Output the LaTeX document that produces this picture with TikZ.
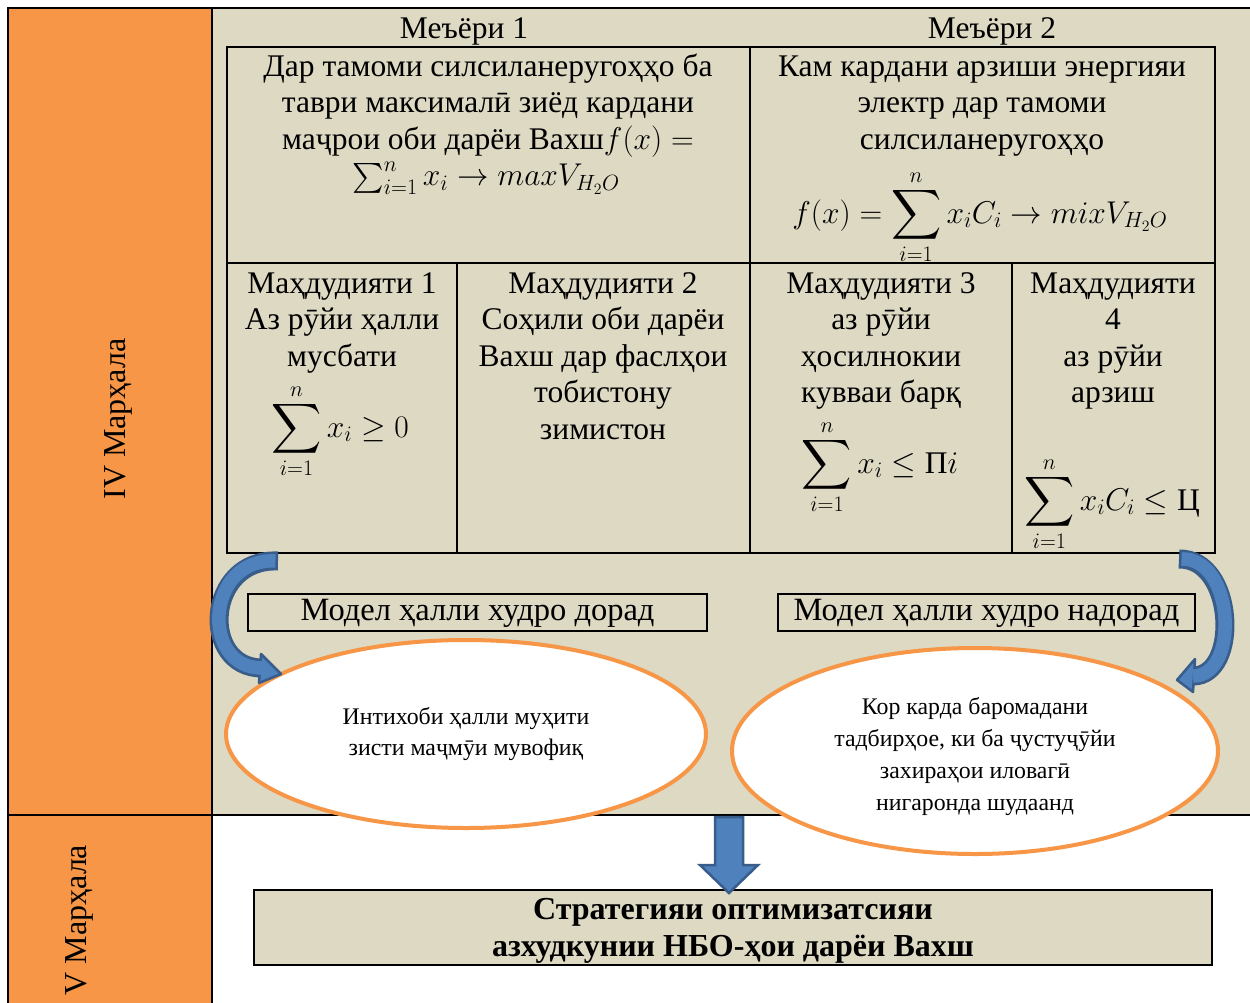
\RequirePackage{fix-cm}
\documentclass[tikz,border=0pt]{standalone}
\usepackage{amsmath}
\usepackage{graphicx}
\usepackage{fontspec}
\setmainfont{Liberation Serif}
\usetikzlibrary{shapes.geometric}
\definecolor{orng}{HTML}{F79646}
\definecolor{bge}{HTML}{DDD9C3}
\definecolor{bfill}{HTML}{4F81BD}
\definecolor{bdark}{HTML}{385D8A}
\newcommand{\BigSum}{\mathop{\vcenter{\hbox{\scalebox{1.4}{$\displaystyle\sum$}}}}\limits}
\newcommand{\MidSum}{\mathop{\vcenter{\hbox{\scalebox{1.2}{$\textstyle\sum$}}}}\nolimits}
\begin{document}
\begin{tikzpicture}[x=1pt,y=-1pt,
 txt/.style={font=\fontsize{31.5}{36.5}\selectfont, inner sep=0pt, align=center, anchor=north},
 etxt/.style={font=\fontsize{23.8}{31.7}\selectfont, inner sep=0pt, align=center, anchor=north},
 mth/.style={font=\fontsize{31.5}{36.5}\selectfont, inner sep=0pt, anchor=base},
 gridline/.style={line width=2.5pt, line cap=rect},
 frameline/.style={line width=2pt},
 lbox/.style={draw=black, line width=2pt, minimum width=#1, minimum height=37pt, inner sep=0pt, font=\fontsize{32.5}{37}\selectfont, text height=22pt, text depth=6pt},
 oval/.style={ellipse, draw=orng, line width=4pt, fill=white, inner sep=0pt},
 stage/.style={font=\fontsize{32}{36}\selectfont, inner sep=0pt, rotate=90},
 bandout/.style={draw=bdark, line width=19pt},
 bandin/.style={draw=bfill, line width=13.5pt, shorten <=2.5pt},
 headshape/.style={fill=bfill, draw=bdark, line width=2.5pt, line join=round},
]
\useasboundingbox (0,0) rectangle (1250,1003);
% backgrounds
\fill[orng] (8,8) rectangle (212,1003);
\fill[bge] (212,8) rectangle (1250,815);
\fill[white] (212,815) rectangle (1250,1003);
\draw[frameline] (8,1003) -- (8,8) -- (1250,8);
\draw[frameline] (212,8) -- (212,1003);
\draw[frameline] (8,815) -- (1250,815);
% stage labels
\node[stage] (s4) at (118,419) {IV Марҳала};
\node[stage] (s5) at (79,920) {V Марҳала};
% headers
\node[mth] (h1) at (464,39) {Меъёри 1};
\node[mth] (h2) at (992,39) {Меъёри 2};
% table
\draw[gridline] (227,47) rectangle (1215,553);
\draw[gridline] (227,263) -- (1215,263);
\draw[gridline] (750,47) -- (750,553);
\draw[gridline] (457,263) -- (457,553);
\draw[gridline] (1012,263) -- (1012,553);
% top cells
\node[txt] (tl) at (488,48) {\rule{0pt}{28pt}Дар тамоми силсиланеругоҳҳо ба\\таври максималӣ зиёд кардани\\маҷрои оби дарёи Вахш$f(x) =$};
\node[mth] (tlm) at (486,186) {$\MidSum_{i=1}^{n} x_i \to maxV_{H_2O}$};
\node[txt] (tr) at (982,48) {\rule{0pt}{28pt}Кам кардани арзиши энергияи\\электр дар тамоми\\силсиланеругоҳҳо};
\node[mth] (trm) at (980,223) {$\displaystyle f(x) = \BigSum_{i=1}^{n} x_i C_i \to mixV_{H_2O}$};
% constraint cells
\node[txt] (c1) at (342,265) {\rule{0pt}{28pt}Маҳдудияти 1\\Аз рӯйи ҳалли\\мусбати};
\node[mth] (c1m) at (340,437) {$\displaystyle\BigSum_{i=1}^{n} x_i \geq 0$};
\node[txt] (c2) at (603,265) {\rule{0pt}{28pt}Маҳдудияти 2\\Соҳили оби дарёи\\Вахш дар фаслҳои\\тобистону\\зимистон};
\node[txt] (c3) at (881,265) {\rule{0pt}{28pt}Маҳдудияти 3\\аз рӯйи\\ҳосилнокии\\кувваи барқ};
\node[mth] (c3m) at (880,473) {$\displaystyle\BigSum_{i=1}^{n} x_i \leq \text{П}i$};
\node[txt] (c4) at (1113,265) {\rule{0pt}{28pt}Маҳдудияти\\4\\аз рӯйи\\арзиш};
\node[mth] (c4m) at (1112,510) {$\displaystyle\BigSum_{i=1}^{n} x_iC_i \leq \text{Ц}$};
% model boxes
\node[lbox=459pt] (m1) at (477.5,612) {Модел ҳалли худро дорад};
\node[lbox=417pt] (m2) at (986.5,612) {Модел ҳалли худро надорад};
% ellipses
\node[oval, minimum width=480pt, minimum height=188pt] (e1) at (466,734) {};
\node[oval, minimum width=486pt, minimum height=206pt] (e2) at (975,751) {};
\node[etxt] (e1t) at (466,704) {\rule{0pt}{20pt}Интихоби ҳалли муҳити\\зисти маҷмӯи мувофиқ};
\node[etxt] (e2t) at (975,694.7) {\rule{0pt}{20pt}Кор карда баромадани\\тадбирҳое, ки ба ҷустуҷӯйи\\захираҳои иловагӣ\\нигаронда шудаанд};
% strategy box
\node[draw=black, line width=2pt, fill=bge, minimum width=958pt, minimum height=75pt, inner sep=0pt] (strat) at (733,927.5) {};
\node[font=\bfseries\fontsize{32}{37}\selectfont, inner sep=0pt, align=center, anchor=north] (stratt) at (733,893) {\rule{0pt}{26pt}Стратегияи оптимизатсияи\\азхудкунии НБО-ҳои дарёи Вахш};
% down block arrow
\filldraw[headshape, line join=miter] (715,817) -- (743,817) -- (743,865) -- (758,865) -- (729,893) -- (700,865) -- (715,865) -- cycle;
% left curved arrow
\draw[bandout] (278,561) .. controls (205,558) and (200,668) .. (262,668);
\filldraw[headshape] (261,654) -- (281,674) -- (259,683) -- cycle;
\draw[bandin] (278,561) .. controls (205,558) and (200,668) .. (262,668);
% right curved arrow
\draw[bandout] (1179,559) .. controls (1235,558) and (1240,676) .. (1193,676);
\filldraw[headshape] (1195,659) -- (1177,680) -- (1193,692) -- cycle;
\draw[bandin] (1179,559) .. controls (1235,558) and (1240,676) .. (1193,676);
\end{tikzpicture}
\end{document}
